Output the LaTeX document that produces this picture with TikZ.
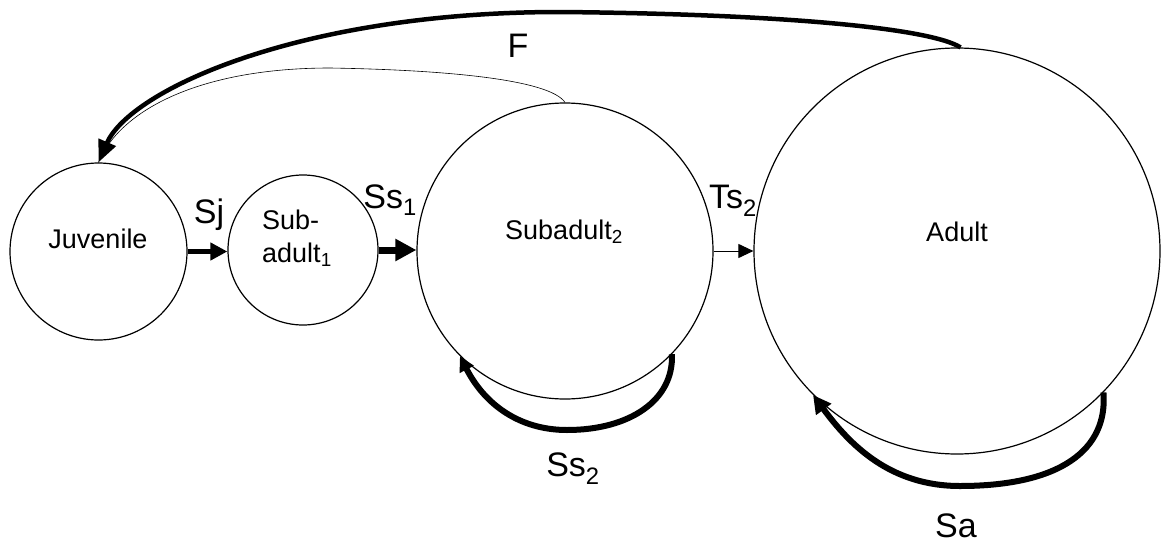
\documentclass[tikz,border=0pt]{standalone}
\usepackage{fontspec}
\setmainfont{Liberation Sans}
\usetikzlibrary{arrows.meta}
\begin{document}
\begin{tikzpicture}[x=1pt,y=-1pt,
  state/.style={draw,circle,line width=1.2pt,inner sep=0pt,fill=white},
  nodetext/.style={font=\fontsize{27}{32}\selectfont,inner sep=0pt,anchor=base},
  lab/.style={font=\fontsize{34}{40}\selectfont,inner sep=0pt,anchor=base},
]
\fill[white,use as bounding box] (0,0) rectangle (1161,546);
% states
\node[state,minimum size=177pt] (juv) at (98.5,251.5) {};
\node[state,minimum size=150pt] (sub1) at (303,250) {};
\node[state,minimum size=296pt] (sub2) at (565,251) {};
\node[state,minimum size=406pt] (adult) at (957,251) {};
% state texts
\node[nodetext] (juvt) at (98,248) {Juvenile};
\node[nodetext,anchor=base west] (sub1a) at (262,229) {Sub-};
\node[nodetext,anchor=base west] (sub1b) at (262,262) {adult\textsubscript{1}};
\node[nodetext] (sub2t) at (564,239) {Subadult\textsubscript{2}};
\node[nodetext] (adultt) at (957,241) {Adult};
% transitions
\draw[line width=5pt,-{Triangle[length=17pt,width=17pt]}] (juv.east) -- (juv.east -| sub1.west);
\draw[line width=7pt,-{Triangle[length=21pt,width=21pt]}] (sub1.east) -- (sub1.east -| sub2.west);
\draw[line width=1pt,-{Triangle[length=15pt,width=14pt]}] (sub2.east) -- (adult.west);
\draw[line width=0.6pt] (sub2.north) .. controls (550,80) and (450,70) .. (330,68)
  .. controls (200,68) and (120,110) .. (juv.north);
\draw[line width=4.5pt,-{Triangle[length=22pt,width=18pt]}] (adult.89)
  .. controls (930,28) and (780,14) .. (560,12)
  .. controls (300,12) and (130,90) .. (juv.north);
\draw[line width=6pt,-{Triangle[length=15pt,width=15pt]}] (sub2.-44)
  .. controls (674,400) and (630,430) .. (567,430)
  .. controls (520,430) and (485,405) .. (sub2.-135);
\draw[line width=6pt,-{Triangle[length=18pt,width=18pt]}] (adult.-44)
  .. controls (1108,450) and (1060,486) .. (960,486)
  .. controls (890,486) and (850,445) .. (adult.-135);
% labels
\node[lab] (Fl) at (518,57) {F};
\node[lab] (Sjl) at (209,223) {Sj};
\node[lab,anchor=base east] (Ss1l) at (417,208) {Ss\textsubscript{1}};
\node[lab,anchor=base east] (Ts2l) at (757,208) {Ts\textsubscript{2}};
\node[lab] (Ss2l) at (573,476) {Ss\textsubscript{2}};
\node[lab] (Sal) at (956,537) {Sa};
\end{tikzpicture}
\end{document}
